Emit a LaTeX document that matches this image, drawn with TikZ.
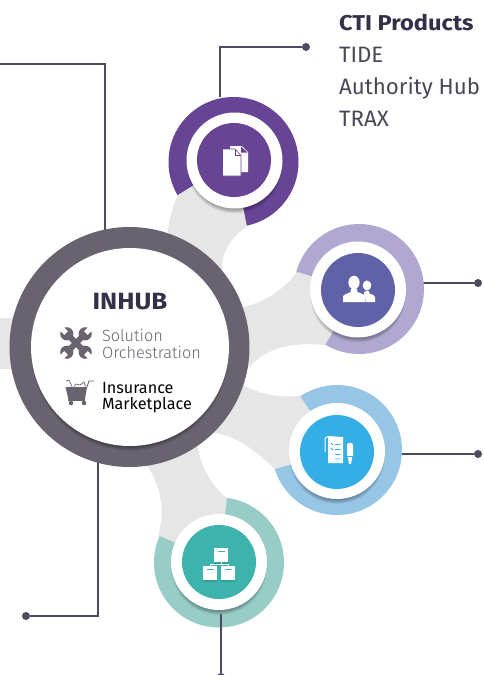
\documentclass[tikz,border=0pt]{standalone}
\usepackage{fontspec}
\setmainfont{Fira Sans}
\newfontfamily\lightf{Fira Sans Light}
\newfontfamily\wideb[FakeStretch=1.1]{Fira Sans Bold}
\definecolor{linecol}{HTML}{4F4A60}
\definecolor{armgrey}{HTML}{E6E6E6}
\definecolor{hubring}{HTML}{696370}
\definecolor{hubtitle}{HTML}{362F4A}
\definecolor{purplec}{HTML}{674494}
\definecolor{lavring}{HTML}{B0A8D0}
\definecolor{lavcore}{HTML}{6062A8}
\definecolor{bluering}{HTML}{96C5E6}
\definecolor{bluecore}{HTML}{35AEE6}
\definecolor{tealring}{HTML}{97CDC6}
\definecolor{tealcore}{HTML}{3EB3AE}
\definecolor{txtgrey}{HTML}{4A4658}
\newcommand{\softshadow}[3]{%
  \foreach \k in {0,...,9}{\fill[black,opacity=0.05] (#1,#2+5) circle ({#3-6+\k*0.65 pt});}}
\tikzset{
  disc/.style={circle,inner sep=0pt,minimum size=#1},
  conn/.style={draw=linecol,line width=2.2pt},
  enddot/.style={circle,fill=linecol,inner sep=0pt,minimum size=8pt},
  armfill/.style={fill=armgrey,draw=none},
  lab/.style={anchor=base west,inner sep=0pt,outer sep=0pt},
  iconw/.style={fill=white,draw=none}
}
\begin{document}
\begin{tikzpicture}[x=1pt,y=-1pt]
\useasboundingbox (0,0) rectangle (483,675);
\fill[white] (0,0) rectangle (483,675);

% free ends and dots
\node[enddot] (d1) at (306,47) {};
\node[enddot] (d2) at (478,283) {};
\node[enddot] (d3) at (478,454) {};
\node[enddot] (d4) at (221,677) {};
\node[enddot] (d5) at (26,616) {};
\coordinate (leftfree) at (0,64);
\coordinate (s1) at (220,97);
\coordinate (s2) at (423,283);
\coordinate (s3) at (401,454);
\coordinate (s4) at (221,614);
\coordinate (h1) at (105,232);
\coordinate (h2) at (98,462);

% connectors behind the discs
\draw[conn] (s1) |- (d1);
\draw[conn] (s2) -- (d2);
\draw[conn] (s3) -- (d3);
\draw[conn] (leftfree) -| (h1);
\draw[conn] (h2) |- (d5);

% outer rings
\node[disc=130pt,fill=purplec] (r1) at (233.5,162) {};
\node[disc=130pt,fill=lavring] (r2) at (359,289) {};
\node[disc=130pt,fill=bluering] (r3) at (337,450) {};
\node[disc=130pt,fill=tealring] (r4) at (219,562.5) {};

% grey arms
\fill[armfill] (0,318) rectangle (40,369);
\fill[armfill] (178,195) .. controls (172,208) and (169,220) .. (168,232)
  -- (200,265) -- (222,270) .. controls (220,255) and (232,235) .. (247,227) -- (234,160) -- cycle;
\fill[armfill] (297,272) .. controls (282,292) and (262,303) .. (243,307)
  -- (225,340) -- (250,367) .. controls (262,352) and (285,341) .. (325,345) -- (358,290) -- cycle;
\fill[armfill] (243,385) .. controls (258,394) and (280,398) .. (300,396) -- (337,451)
  -- (275,469) .. controls (255,450) and (235,435) .. (213,433) -- (198,425) -- cycle;
\fill[armfill] (198,447) .. controls (200,465) and (212,487) .. (227,498) -- (219,562)
  -- (158,535) .. controls (165,515) and (163,490) .. (147,465) -- (170,440) -- cycle;

% white discs and cores
\softshadow{234.5}{160.5}{48}
\softshadow{358}{289.5}{48}
\softshadow{337}{451}{48}
\softshadow{219}{562}{48}
\node[disc=96pt,fill=white] (w1) at (234.5,160.5) {};
\node[disc=96pt,fill=white] (w2) at (358,289.5) {};
\node[disc=96pt,fill=white] (w3) at (337,451) {};
\node[disc=96pt,fill=white] (w4) at (219,562) {};
\node[disc=74pt,fill=purplec] (c1) at (234,160) {};
\node[disc=74pt,fill=lavcore] (c2) at (358,290) {};
\node[disc=74pt,fill=bluecore] (c3) at (337,452) {};
\node[disc=74pt,fill=tealcore] (c4) at (219,562) {};

\draw[conn] (s4) -- (d4);

% hub
\node[disc=240pt,fill=hubring] (hub) at (129.5,347) {};
\softshadow{130}{347}{99}
\node[disc=198pt,fill=white] (hubw) at (130,347) {};

% document icon
\fill[iconw] (230,146) -- (242,146) -- (248,152) -- (248,172) -- (230,172) -- cycle;
\fill[purplec] (241,146.5) -- (241,152.5) -- (247.5,152.5) -- cycle;
\fill[iconw,draw=purplec,line width=0.6pt] (222.5,149) -- (235,149) -- (241,155.5) -- (241,176) -- (222.5,176) -- cycle;
\draw[purplec,line width=0.6pt] (235,149) -- (235,155.5) -- (241,155.5);

% people icon
\fill[iconw] (367,285.5) ellipse (4.3pt and 5pt);
\fill[iconw] (366,291) -- (369,291) -- (369.5,293.5) .. controls (373,295) and (375,295.5) .. (375,297) -- (375,302) -- (357,302) -- (357,297) -- cycle;
\fill[lavcore] (361,284) -- (366,300) -- (366,303) -- (340,303) -- cycle;
\fill[iconw] (354,282.5) ellipse (5.6pt and 6.8pt);
\fill[iconw] (351,289) -- (357,289) -- (357.5,292) .. controls (362,294) and (365.5,294.5) .. (365.5,297) -- (365.5,302) -- (343,302) -- (343,297) .. controls (343,294.5) and (347,294) .. (350.5,292) -- cycle;

% clipboard icon
\fill[iconw] (328,436) -- (343,437) -- (343,463) -- (328,463) -- cycle;
\draw[white,line width=1pt] (328,436.5) .. controls (325,436.5) and (325,439) .. (325,441) -- (325,452);
\draw[bluecore,line width=0.8pt] (331,443) -- (333,445) (335,444.5) -- (340.5,444.5)
  (331,448) -- (333,450) (335,449.5) -- (340.5,449.5) (335,454.5) -- (340.5,454.5) (335,459) -- (340.5,459);
\fill[iconw,rounded corners=2pt] (347,443) rectangle (353,458);
\fill[iconw] (348,458) -- (352,458) -- (351,464) -- (349,464) -- cycle;
\draw[bluecore,line width=0.6pt] (347,456) -- (353,456);

% boxes icon
\draw[white,line width=0.8pt] (221,562) -- (221,564) (210,566) -- (210,564) -- (228,564) -- (228,566);
\foreach \bx/\by in {214/548,203/566,221/566}{
  \fill[black,opacity=0.12] (\bx,\by+1.5) rectangle (\bx+14,\by+15.5);
  \fill[iconw] (\bx,\by) rectangle (\bx+14,\by+14);
  \fill[tealcore] (\bx+3.5,\by+2.5) rectangle (\bx+10.5,\by+3.6);
}

% wrench icon
\begin{scope}[shift={(76,343)}]
\foreach \a in {45,135}{
  \begin{scope}[rotate=\a]
    \fill[hubring] (-13,-3) rectangle (13,3);
    \foreach \e in {1,-1}{
      \fill[hubring] (\e*13,0) circle (6.6pt);
      \fill[white] (\e*14,-2.6) rectangle (\e*22,2.6);
    }
  \end{scope}
}
\end{scope}

% cart icon
\fill[hubring] (65.5,387) -- (87,387) -- (85,399) -- (68.5,399) -- cycle;
\fill[hubring] (68,399) rectangle (85,401);
\fill[hubring] (71,403) circle (2.3pt) (84,403) circle (2.3pt);
\draw[hubring,line width=0.9pt] (87,387) -- (89,381) -- (94,381);
\draw[hubring,line width=0.7pt] (66,381) -- (69,380) -- (72,386.5) (74,386.5) -- (76,384) -- (80,385) -- (84,382) -- (85.5,386.5);

% labels
\node[lab,font=\wideb\fontsize{21.5}{24}\selectfont,text=hubtitle] (t0) at (339,30) {CTI Products};
\node[lab,font=\fontsize{22.3}{24}\selectfont,text=txtgrey] (t1) at (339,62) {TIDE};
\node[lab,font=\fontsize{22.3}{24}\selectfont,text=txtgrey] (t2) at (339,94) {Authority Hub};
\node[lab,font=\fontsize{22.3}{24}\selectfont,text=txtgrey] (t3) at (339,126) {TRAX};
\node[anchor=base,inner sep=0pt,font=\wideb\fontsize{23.5}{26}\selectfont,text=hubtitle] (hubt) at (130,309) {INHUB};
\node[lab,font=\lightf\fontsize{16.3}{18}\selectfont,text=hubring] (so1) at (102,341) {Solution};
\node[lab,font=\lightf\fontsize{16.3}{18}\selectfont,text=hubring] (so2) at (102,358) {Orchestration};
\node[lab,font=\fontsize{16.2}{18}\selectfont,text=black] (im1) at (102,393) {Insurance};
\node[lab,font=\fontsize{16.2}{18}\selectfont,text=black] (im2) at (102,409) {Marketplace};
\end{tikzpicture}
\end{document}
